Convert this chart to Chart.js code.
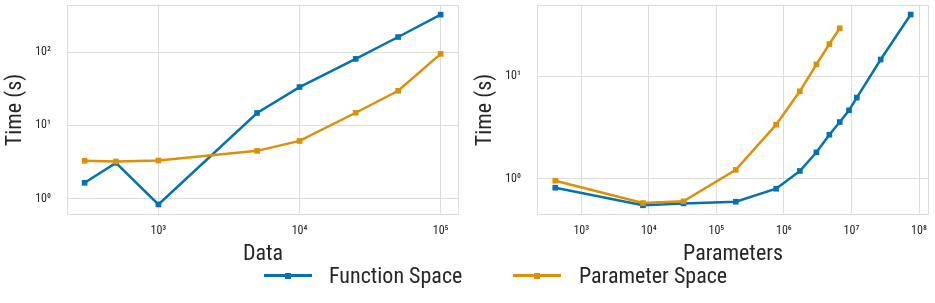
<!DOCTYPE html>
<html>
<head>
<meta charset="utf-8">
<script src="https://cdn.jsdelivr.net/npm/chart.js@4/dist/chart.umd.min.js"></script>
<style>
  html, body { margin: 0; padding: 0; background: #fff; }
  #wrap { position: relative; width: 935px; height: 303px; overflow: hidden; font-family: "Roboto Condensed", "DejaVu Sans Condensed", sans-serif; color: #262626; }
  #c1 { position: absolute; left: 0; top: 0; }
  #c2 { position: absolute; left: 470px; top: 0; }
  .lg-line { position: absolute; height: 3px; }
  .lg-mark { position: absolute; width: 6px; height: 6px; }
  .lg-text { position: absolute; font-size: 22px; line-height: 26px; white-space: nowrap; }
</style>
</head>
<body>
<div id="wrap">
  <canvas id="c1" width="470" height="270"></canvas>
  <canvas id="c2" width="465" height="270"></canvas>
  <div class="lg-line" style="left:264px;top:274px;width:48px;background:#0173B2"></div>
  <div class="lg-mark" style="left:285px;top:272.5px;background:#0173B2"></div>
  <div class="lg-text" style="left:329px;top:263px">Function Space</div>
  <div class="lg-line" style="left:513px;top:274px;width:48px;background:#DE8F05"></div>
  <div class="lg-mark" style="left:534px;top:272.5px;background:#DE8F05"></div>
  <div class="lg-text" style="left:579px;top:263px">Parameter Space</div>
</div>
<script>
// ---- data ----
const dataSizes      = [300, 500, 1000, 5000, 10000, 25000, 50000, 100000];
const dataFunction   = [1.65, 3.09, 0.836, 14.8, 33.4, 81, 161, 325];
const dataParameter  = [3.29, 3.22, 3.32, 4.5, 6.15, 14.9, 29.7, 94.8];

const paramCountsFunction  = [412, 8180, 32600, 194000, 767000, 1720000, 3030000, 4710000, 6710000, 9200000, 12000000, 27100000, 75300000];
const paramTimesFunction   = [0.817, 0.55, 0.574, 0.596, 0.798, 1.19, 1.81, 2.69, 3.58, 4.66, 6.2, 14.6, 40.2];
const paramCountsParameter = [412, 8180, 32600, 194000, 767000, 1720000, 3030000, 4710000, 6710000];
const paramTimesParameter  = [0.955, 0.578, 0.601, 1.22, 3.37, 7.14, 13.1, 20.7, 29.5];

const leftXTicks  = [1e3, 1e4, 1e5];
const leftYTicks  = [1e0, 1e1, 1e2];
const rightXTicks = [1e3, 1e4, 1e5, 1e6, 1e7, 1e8];
const rightYTicks = [1e0, 1e1];

const seriesNames = ['Function Space', 'Parameter Space'];
const yTitle = 'Time (s)';
const leftXTitle = 'Data';
const rightXTitle = 'Parameters';

// ---- styling ----
const BLUE = '#0173B2', ORANGE = '#DE8F05';
const GRID = '#dcdcdc', TEXT = '#262626';
const FONT = '"Roboto Condensed", "DejaVu Sans Condensed", sans-serif';
const SUP = {'0':'\u2070','1':'\u00B9','2':'\u00B2','3':'\u00B3','4':'\u2074','5':'\u2075','6':'\u2076','7':'\u2077','8':'\u2078','9':'\u2079','-':'\u207B'};
function pow10Label(v) {
  const e = String(Math.round(Math.log10(v)));
  return '10' + e.split('').map(ch => SUP[ch]).join('');
}
function pts(xs, ys) { return xs.map((x, i) => ({x: x, y: ys[i]})); }

const framePlugin = {
  id: 'frame',
  beforeDatasetsDraw(chart) {
    const a = chart.chartArea, ctx = chart.ctx;
    ctx.save();
    ctx.strokeStyle = GRID; ctx.lineWidth = 1;
    ctx.strokeRect(Math.round(a.left) + 0.5, Math.round(a.top) + 0.5, Math.round(a.right - a.left) - 1, Math.round(a.bottom - a.top) - 1);
    ctx.restore();
  }
};

function zeroPad(s) { s.paddingTop = 0; s.paddingBottom = 0; s.paddingLeft = 0; s.paddingRight = 0; }

function makeChart(canvasId, sets, xr, yr, xTicks, yTicks, xTitle, padRight) {
  const ds = sets.map((s, i) => ({
    label: seriesNames[i],
    data: s,
    borderColor: i === 0 ? BLUE : ORANGE,
    backgroundColor: i === 0 ? BLUE : ORANGE,
    borderWidth: 2.5,
    pointStyle: 'rect',
    pointRadius: 4,
    pointBorderWidth: 0,
    tension: 0,
    order: i === 0 ? 1 : 0
  }));
  return new Chart(document.getElementById(canvasId), {
    type: 'line',
    data: { datasets: ds },
    plugins: [framePlugin],
    options: {
      responsive: false,
      animation: false,
      devicePixelRatio: 1,
      layout: { padding: { left: 0, right: padRight, top: 5, bottom: 0 } },
      plugins: { legend: { display: false }, tooltip: { enabled: false } },
      scales: {
        x: {
          type: 'logarithmic',
          min: xr[0], max: xr[1],
          afterBuildTicks: s => { s.ticks = xTicks.map(v => ({value: v})); },
          afterFit: s => { s.height = 55; zeroPad(s); },
          grid: { color: GRID, lineWidth: 1, drawTicks: false },
          border: { display: false },
          ticks: { autoSkip: false, maxRotation: 0, padding: 9, color: TEXT, font: { family: FONT, size: 12 }, callback: v => pow10Label(v) },
          title: { display: true, text: xTitle, color: TEXT, font: { family: FONT, size: 22 }, padding: { top: 0, bottom: 2 } }
        },
        y: {
          type: 'logarithmic',
          min: yr[0], max: yr[1],
          afterBuildTicks: s => { s.ticks = yTicks.map(v => ({value: v})); },
          afterFit: s => { s.width = 67; zeroPad(s); },
          grid: { color: GRID, lineWidth: 1, drawTicks: false },
          border: { display: false },
          ticks: { autoSkip: false, padding: 16, color: TEXT, font: { family: FONT, size: 12 }, callback: v => pow10Label(v) },
          title: { display: true, text: yTitle, color: TEXT, font: { family: FONT, size: 22 }, padding: { top: 2.5, bottom: 0 } }
        }
      }
    }
  });
}

makeChart('c1',
  [pts(dataSizes, dataFunction), pts(dataSizes, dataParameter)],
  [225, 134900], [0.611, 440], leftXTicks, leftYTicks, leftXTitle, 11);
makeChart('c2',
  [pts(paramCountsFunction, paramTimesFunction), pts(paramCountsParameter, paramTimesParameter)],
  [221, 1.406e8], [0.442, 49.8], rightXTicks, rightYTicks, rightXTitle, 6);
</script>
</body>
</html>
